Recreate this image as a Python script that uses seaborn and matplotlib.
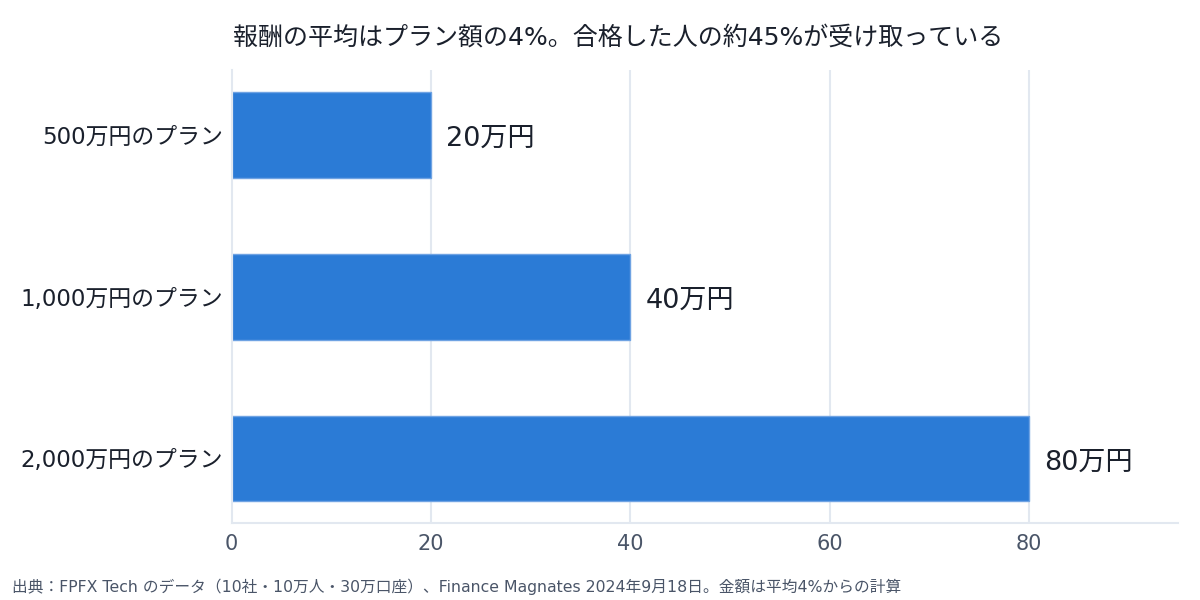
import matplotlib
matplotlib.use('Agg')
import matplotlib.pyplot as plt
import seaborn as sns
import pandas as pd

# データ
plans = ['500万円のプラン', '1,000万円のプラン', '2,000万円のプラン']
rewards = [20, 40, 80]
value_labels = ['20万円', '40万円', '80万円']
xticks = [0, 20, 40, 60, 80]

title = '報酬の平均はプラン額の4%。合格した人の約45%が受け取っている'
source = '出典：FPFX Tech のデータ（10社・10万人・30万口座）、Finance Magnates 2024年9月18日。金額は平均4%からの計算'

sns.set_theme(style='white')
plt.rcParams['font.family'] = ['DejaVu Sans', 'Noto Sans CJK JP']

df = pd.DataFrame({'plan': plans, 'reward': rewards})

fig = plt.figure(figsize=(12, 6), dpi=100)
ax = fig.add_axes([0.193, 0.128, 0.789, 0.755])

grid_color = '#e2e8f0'
for x in xticks[1:]:
    ax.axvline(x, color=grid_color, lw=1.5, zorder=0)

sns.barplot(data=df, x='reward', y='plan', orient='h', color='#2b7bd6',
            width=0.53, saturation=1, edgecolor='#6fa3e3', linewidth=1,
            ax=ax, zorder=2)

for i, (v, lab) in enumerate(zip(rewards, value_labels)):
    ax.text(v + 1.5, i + 0.005, lab, va='center_baseline', ha='left',
            fontsize=19.5, color='#1a202c')

ax.set_xlim(0, 95)
ax.set_ylim(2.4, -0.4)
ax.set_xticks(xticks)
ax.set_xlabel('')
ax.set_ylabel('')
ax.tick_params(axis='x', labelsize=15, colors='#4a5568', length=0, pad=8)
ax.tick_params(axis='y', labelsize=16.5, colors='#1a202c', length=0, pad=6)
for s in ['top', 'right']:
    ax.spines[s].set_visible(False)
for s in ['left', 'bottom']:
    ax.spines[s].set_color(grid_color)
    ax.spines[s].set_linewidth(1.5)

fig.text(0.515, 0.938, title, ha='center', va='center', fontsize=18, color='#1a202c')
fig.text(0.01, 0.022, source, ha='left', va='center', fontsize=11.3, color='#4a5568')

fig.savefig('out.png', dpi=100)
